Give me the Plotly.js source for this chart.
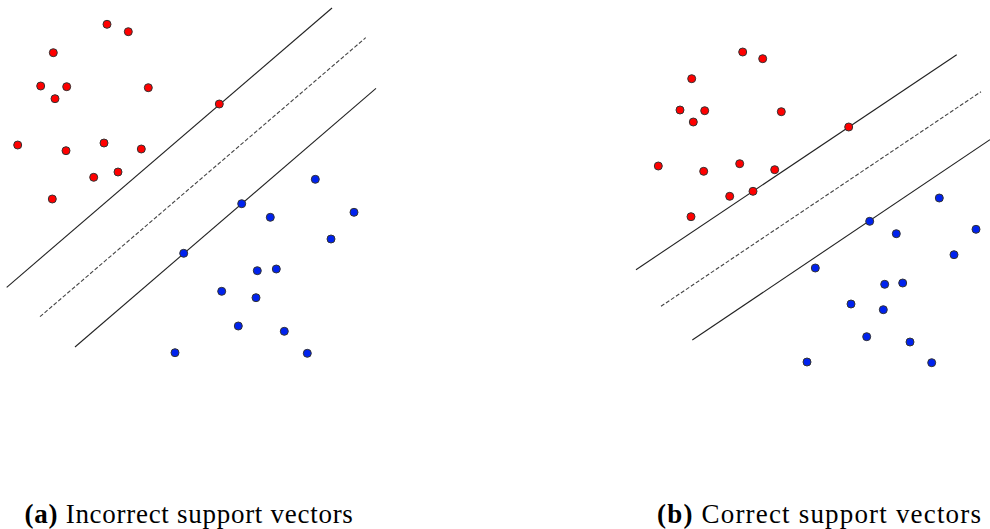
<!DOCTYPE html>
<html>
<head>
<meta charset="utf-8">
<script src="https://cdn.plot.ly/plotly-3.0.1.min.js"></script>
<style>html,body{margin:0;padding:0;background:#fff;}#chart{width:990px;height:529px;}
#chart g.annotation[data-index="0"] .annotation-text{letter-spacing:0.72px;}
#chart g.annotation[data-index="1"] .annotation-text{letter-spacing:1.18px;}</style>
</head>
<body>
<div id="chart"></div>
<script>
// Panel (a): incorrect support vectors
const aRedX = [107, 128.3, 53.3, 40.7, 66.7, 55, 148.3, 219.3, 17.7, 66, 104, 141.3, 93.7, 118, 52.3];
const aRedY = [24.3, 31.7, 52.7, 86, 86.7, 98.7, 87.7, 104, 145, 150.7, 143, 149, 177.3, 172, 199];
const aBlueX = [315.3, 241.7, 270.3, 354, 331, 183.7, 257.3, 276.3, 221.7, 256, 238.3, 284.3, 175, 307.3];
const aBlueY = [179.3, 203.7, 217.3, 212.3, 239, 253.3, 270.7, 269, 291.3, 297.7, 326, 331.3, 352.7, 353.3];
const aUpperX = [6.7, 332], aUpperY = [287.3, 8];
const aMidX = [40, 365.7], aMidY = [316.7, 37.7];
const aLowerX = [75, 376], aLowerY = [347, 88.3];

// Panel (b): correct support vectors
const bRedX = [742.7, 762.7, 691.7, 680, 704.7, 693.3, 781.3, 848.7, 658.3, 703.7, 739.7, 774.7, 729.7, 753, 691];
const bRedY = [52, 58.7, 78.7, 110, 110.7, 122, 111.7, 127, 166, 171.3, 163.7, 169.7, 196.3, 191.3, 216.7];
const bBlueX = [939.3, 869.7, 896.3, 976, 954, 815.3, 884.7, 902.7, 851, 883.3, 866.7, 910, 807, 931.7];
const bBlueY = [198, 221.3, 233.7, 229.3, 254.7, 268, 284.3, 283, 304, 309.7, 336.7, 342, 362, 362.7];
const bUpperX = [636, 956.7], bUpperY = [269.7, 54.7];
const bMidX = [661, 981], bMidY = [306.3, 91.7];
const bLowerX = [692.3, 990], bLowerY = [340, 139.7];

const captions = ["<b>(a)</b> Incorrect support vectors", "<b>(b)</b> Correct support vectors"];
const captionX = [33, 671];

const solid = {color: '#222', width: 1.1};
const dashed = {color: '#444', width: 1.1, dash: '4px,2px'};
function line(x, y, l) { return {x, y, mode: 'lines', line: l, hoverinfo: 'skip', showlegend: false}; }
function pts(x, y, c) {
  return {x, y, mode: 'markers', showlegend: false,
    marker: {size: 8, color: c, line: {color: '#333', width: 1}}};
}
const traces = [
  line(aUpperX, aUpperY, solid), line(aMidX, aMidY, dashed), line(aLowerX, aLowerY, solid),
  line(bUpperX, bUpperY, solid), line(bMidX, bMidY, dashed), line(bLowerX, bLowerY, solid),
  pts(aRedX, aRedY, '#ff0000'), pts(aBlueX, aBlueY, '#0022ee'),
  pts(bRedX, bRedY, '#ff0000'), pts(bBlueX, bBlueY, '#0022ee')
];
const layout = {
  width: 990, height: 529,
  margin: {l: 0, r: 0, t: 0, b: 0},
  paper_bgcolor: '#fff', plot_bgcolor: '#fff',
  showlegend: false,
  xaxis: {range: [0, 990], visible: false, fixedrange: true},
  yaxis: {range: [529, 0], visible: false, fixedrange: true},
  annotations: captions.map((t, i) => ({
    text: t, x: captionX[i], y: 513.5, xref: 'x', yref: 'y',
    xanchor: 'left', yanchor: 'middle', showarrow: false,
    font: {family: 'Liberation Serif', size: 27, color: '#000'}
  }))
};
Plotly.newPlot('chart', traces, layout, {displayModeBar: false, staticPlot: true});
</script>
</body>
</html>
